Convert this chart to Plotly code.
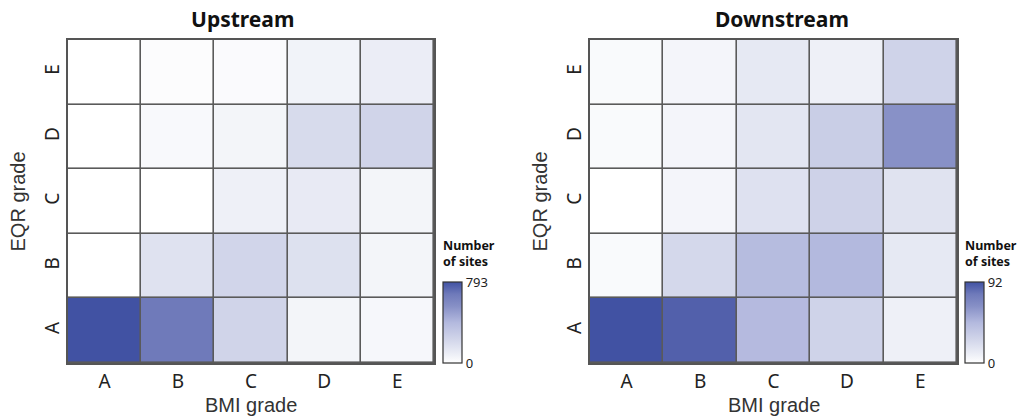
import plotly.graph_objects as go

bmi_grades = ["A", "B", "C", "D", "E"]
eqr_grades = ["A", "B", "C", "D", "E"]

# rows: EQR grade A..E (bottom to top), columns: BMI grade A..E
upstream = [
    [793, 674, 238, 55, 40],
    [0, 160, 230, 167, 55],
    [0, 0, 79, 111, 55],
    [0, 32, 55, 200, 238],
    [0, 16, 24, 63, 95],
]
downstream = [
    [92, 87, 45, 28, 9],
    [3, 25, 44, 46, 14],
    [0, 6, 19, 29, 18],
    [3, 6, 16, 32, 64],
    [3, 6, 14, 9, 28],
]
panel_titles = ["Upstream", "Downstream"]

colorscale = [
    [0.0, "#ffffff"],
    [0.1, "#eef0f7"],
    [0.3, "#d0d4e9"],
    [0.5, "#b3b9de"],
    [0.7, "#8790c6"],
    [0.85, "#6f7aba"],
    [1.0, "#4152a3"],
]

W, H = 1024, 418
def px_x(x):
    return x / W
def px_y(y):
    return 1 - y / H

panels = [
    dict(z=upstream, x0=68, x1=434, cbx=443, title=panel_titles[0], tx=242),
    dict(z=downstream, x0=590, x1=957, cbx=965, title=panel_titles[1], tx=782),
]
top, bottom = 40, 363

fig = go.Figure()
annotations = []
for i, p in enumerate(panels):
    zmax = max(max(r) for r in p["z"])
    xa = "x" if i == 0 else "x2"
    ya = "y" if i == 0 else "y2"
    fig.add_trace(go.Heatmap(
        z=p["z"], x=bmi_grades, y=eqr_grades,
        colorscale=colorscale, zmin=0, zmax=zmax,
        xgap=1.6, ygap=1.6,
        xaxis=xa, yaxis=ya,
        colorbar=dict(
            x=px_x(p["cbx"]), xanchor="left", xref="paper",
            y=px_y(bottom), yanchor="bottom", yref="paper",
            len=(bottom - 282) / H, lenmode="fraction",
            thickness=19, outlinewidth=1.2, outlinecolor="#333333",
            tickvals=[0, zmax], ticktext=["0", str(zmax)],
            ticks="", ticklen=0, tickfont=dict(size=13, color="#222222", family="Noto Sans"),
            xpad=0, ypad=0,
        ),
    ))
    annotations.append(dict(
        text="<b>" + p["title"] + "</b>", x=px_x(p["tx"]), y=px_y(19),
        xref="paper", yref="paper", xanchor="center", yanchor="middle",
        showarrow=False, font=dict(size=21, color="#111111", family="Noto Sans"),
    ))
    annotations.append(dict(
        text="<b>Number<br>of sites</b>", x=px_x(p["cbx"] - 2), y=px_y(272),
        xref="paper", yref="paper", xanchor="left", yanchor="bottom", align="left",
        showarrow=False, font=dict(size=12.5, color="#111111", family="Noto Sans"),
    ))
    annotations.append(dict(
        text="BMI grade", x=px_x((p["x0"] + p["x1"]) / 2), y=px_y(405),
        xref="paper", yref="paper", xanchor="center", yanchor="middle",
        showarrow=False, font=dict(size=20, color="#333333", family="Liberation Sans"),
    ))
    annotations.append(dict(
        text="EQR grade", x=px_x(p["x0"] - 50), y=px_y((top + bottom) / 2),
        xref="paper", yref="paper", xanchor="center", yanchor="middle", textangle=-90,
        showarrow=False, font=dict(size=20, color="#333333", family="Liberation Sans"),
    ))

axis_common = dict(showgrid=False, zeroline=False, showline=True, mirror=True,
                   linecolor="#555555", linewidth=1.5, ticks="",
                   tickfont=dict(size=19, color="#222222", family="Noto Sans"))

fig.update_layout(
    width=W, height=H,
    margin=dict(l=0, r=0, t=0, b=0),
    paper_bgcolor="white", plot_bgcolor="#5a5a5a",
    xaxis=dict(domain=[px_x(68), px_x(434)], anchor="y", **axis_common),
    yaxis=dict(domain=[px_y(bottom), px_y(top)], anchor="x", tickangle=-90, **axis_common),
    xaxis2=dict(domain=[px_x(590), px_x(957)], anchor="y2", **axis_common),
    yaxis2=dict(domain=[px_y(bottom), px_y(top)], anchor="x2", tickangle=-90, **axis_common),
    annotations=annotations,
    showlegend=False,
)

fig.write_html("out.html")
